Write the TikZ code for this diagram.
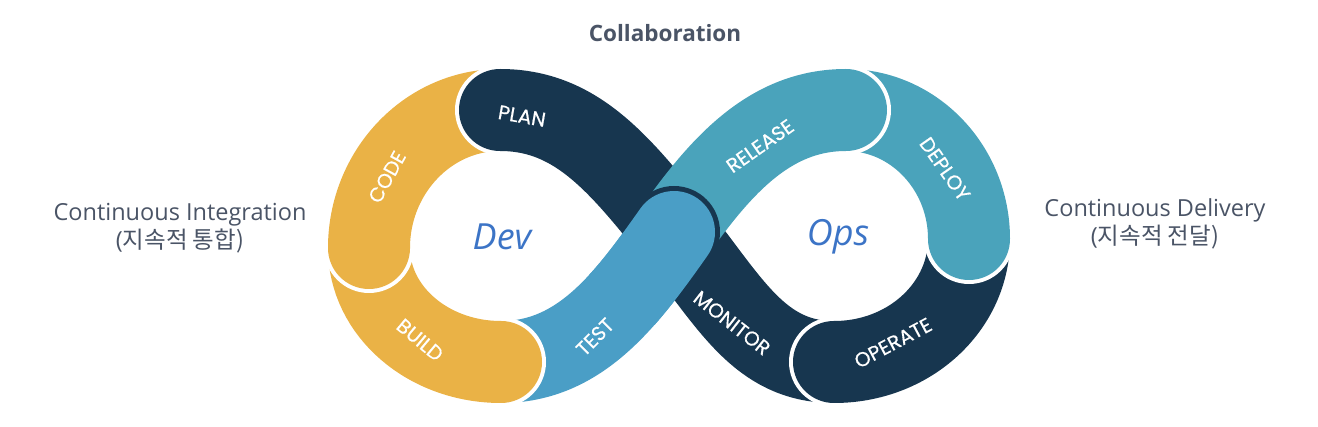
\documentclass[tikz,border=0pt]{standalone}
\usepackage{fontspec}
\setmainfont{Open Sans}
\newfontfamily\krfont{Noto Sans CJK KR}
\newfontfamily\geofont{Poppins}[FakeBold=0.5]
\definecolor{yel}{HTML}{EAB246}
\definecolor{navyb}{HTML}{17364F}
\definecolor{tealb}{HTML}{4AA3BB}
\definecolor{testb}{HTML}{4A9EC6}
\definecolor{txtg}{HTML}{4A5466}
\definecolor{devb}{HTML}{3C74C6}
\begin{document}
\begin{tikzpicture}[x=1pt,y=-1pt,
  band/.style={line width=82pt,line cap=round},
  gap/.style={fill=white},
  lbl/.style={text=white,font=\geofont\fontsize{20}{20}\selectfont,inner sep=0pt},
  side/.style={text=txtg,font=\fontsize{23.5}{28.5}\selectfont,align=center,inner sep=0pt},
  loopname/.style={text=devb,font=\itshape\fontsize{36}{36}\selectfont,inner sep=0pt}]
\useasboundingbox (0,0) rectangle (1318,427);
\coordinate (C) at (674,232);
\coordinate (LT) at (500,110);
\coordinate (LL) at (369,248);
\coordinate (LB) at (501,362);
\coordinate (RT) at (846,110);
\coordinate (RR) at (969,239);
\coordinate (RB) at (834,362);
% TEST (lower part, under BUILD)
\draw[band,testb] (LB) .. controls (580,362) and (626,300) .. (C);
% BUILD
\fill[gap] (LB) circle (45);
\draw[band,yel] (LL) .. controls (369,311) and (428,362) .. (LB);
% CODE
\fill[gap] (LL) circle (45);
\draw[band,yel] (LT) .. controls (428,110) and (369,172) .. (LL);
% PLAN + MONITOR
\fill[gap] (LT) circle (45);
\draw[band,navyb] (LT) .. controls (575,110) and (618,162) .. (C)
  .. controls (730,302) and (759,362) .. (RB);
% OPERATE
\fill[gap] (RB) circle (45);
\draw[band,navyb] (RR) .. controls (969,307) and (909,362) .. (RB);
% DEPLOY
\fill[gap] (RR) circle (45);
\draw[band,tealb] (RT) .. controls (914,110) and (969,168) .. (RR);
% RELEASE
\fill[gap] (RT) circle (45);
\draw[band,tealb] (C) .. controls (722,164) and (771,110) .. (RT);
% TEST (upper end, on top)
\fill[navyb] (C) circle (46);
\begin{scope}
  \clip (C) circle (95);
  \draw[band,testb] (LB) .. controls (580,362) and (626,300) .. (C);
\end{scope}
% labels
\node[lbl,rotate=-10] (plan) at (522,116) {PLAN};
\node[lbl,rotate=61] (code) at (387,177) {CODE};
\node[lbl,rotate=-40] (build) at (420,340) {BUILD};
\node[lbl,rotate=45] (test) at (595,337) {TEST};
\node[lbl,rotate=35] (release) at (760,146) {RELEASE};
\node[lbl,rotate=-55] (deploy) at (945,169) {DEPLOY};
\node[lbl,rotate=28] (operate) at (893,343) {OPERATE};
\node[lbl,rotate=-38] (monitor) at (732,323) {MONITOR};
\node[loopname] (dev) at (502,237) {Dev};
\node[loopname] (ops) at (838,237) {Ops};
\node[text=txtg,font=\bfseries\fontsize{22.5}{22.5}\selectfont,inner sep=0pt] (collab) at (665,33) {Collaboration};
\node[side] (ci) at (180,228) {Continuous Integration\\(\krfont 지속적 통합)};
\node[side] (cd) at (1155,224) {Continuous Delivery\\(\krfont 지속적 전달)};
\end{tikzpicture}
\end{document}
